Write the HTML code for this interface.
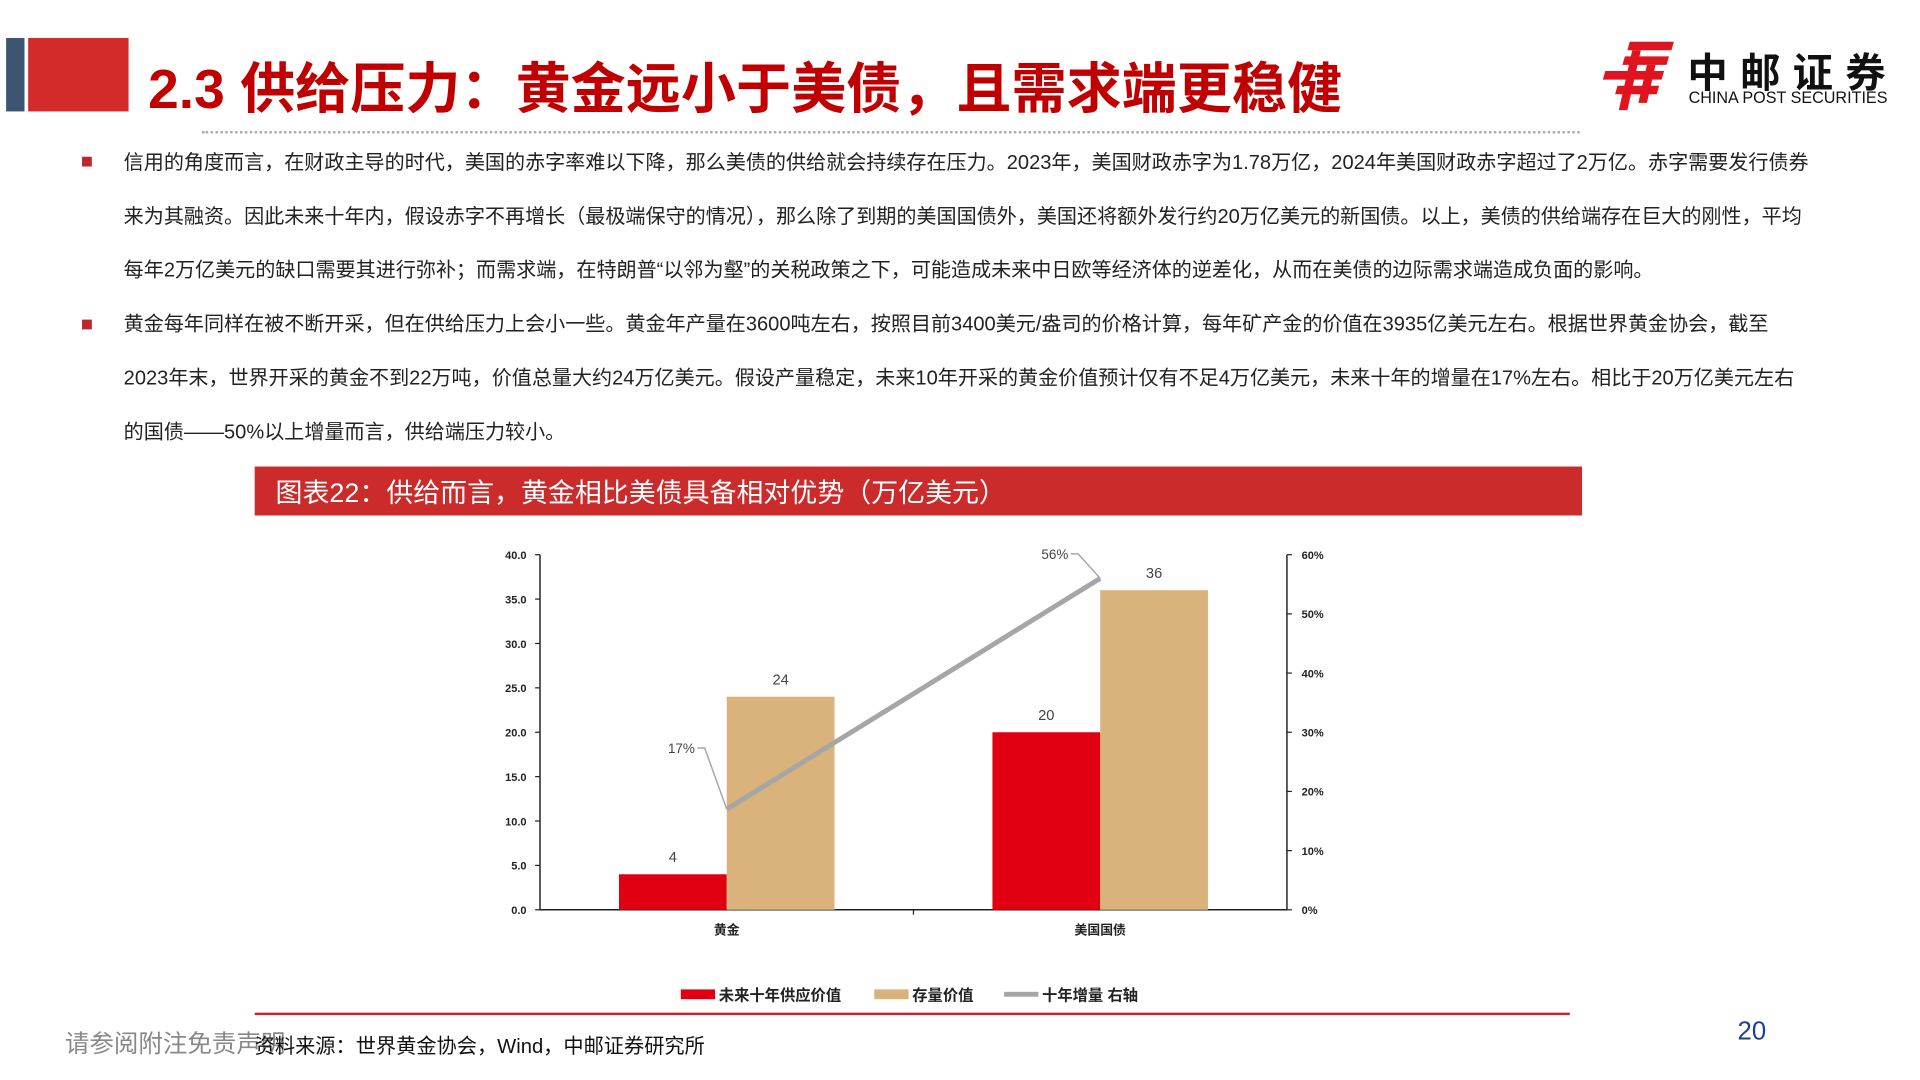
<!DOCTYPE html>
<html><head><meta charset="utf-8">
<style>
html,body{margin:0;padding:0;background:#fff;}
body{width:1920px;height:1080px;overflow:hidden;position:relative;font-family:"Liberation Sans","Noto Sans CJK SC",sans-serif;}
#stage{position:absolute;left:0;top:0;width:1568px;height:882px;transform:scale(1.22449);transform-origin:0 0;}
.abs{position:absolute;}
.para{position:absolute;left:101px;font-size:16.4px;color:#222;line-height:44px;width:1382px;}
.bul{position:absolute;left:67px;width:8px;height:8px;background:#c0272d;}
</style></head><body>
<div id="stage">
  <div class="abs" style="left:5px;top:31px;width:15px;height:60px;background:#3d5573"></div>
  <div class="abs" style="left:23px;top:31px;width:82px;height:60px;background:#d32a2a"></div>
  <div class="abs" style="left:121px;top:36px;font-size:45px;font-weight:bold;color:#c00000;white-space:nowrap">2.3 供给压力：黄金远小于美债，且需求端更稳健</div>
  <div class="abs" style="left:165px;top:107px;width:1125px;border-top:2px dotted #aaa"></div>
  <svg class="abs" style="left:1309px;top:34px" width="60" height="56" viewBox="0 0 60 56">
    <g fill="#e0141e">
      <polygon points="22,0 58,0 56,7 20,7"/><polygon points="18,12 54,12 52,19 16,19"/>
      <polygon points="2,24 50,24 48,31 0,31"/><polygon points="12,36 46,36 44,43 10,43"/>
      <polygon points="24,7 31,7 20,56 13,56"/><polygon points="36,19 43,19 36,50 29,50"/>
    </g>
  </svg>
  <div class="abs" style="left:1378px;top:33px;font-size:33px;font-weight:bold;color:#111;letter-spacing:10px;white-space:nowrap">中邮证券</div>
  <div class="abs" style="left:1379px;top:72px;font-size:13.2px;color:#111;white-space:nowrap">CHINA POST SECURITIES</div>

  <div class="bul" style="top:128px"></div>
  <div class="para" style="top:111px">信用的角度而言，在财政主导的时代，美国的赤字率难以下降，那么美债的供给就会持续存在压力。2023年，美国财政赤字为1.78万亿，2024年美国财政赤字超过了2万亿。赤字需要发行债券来为其融资。因此未来十年内，假设赤字不再增长（最极端保守的情况），那么除了到期的美国国债外，美国还将额外发行约20万亿美元的新国债。以上，美债的供给端存在巨大的刚性，平均每年2万亿美元的缺口需要其进行弥补；而需求端，在特朗普“以邻为壑”的关税政策之下，可能造成未来中日欧等经济体的逆差化，从而在美债的边际需求端造成负面的影响。</div>
  <div class="bul" style="top:261px"></div>
  <div class="para" style="top:243px">黄金每年同样在被不断开采，但在供给压力上会小一些。黄金年产量在3600吨左右，按照目前3400美元/盎司的价格计算，每年矿产金的价值在3935亿美元左右。根据世界黄金协会，截至<br>2023年末，世界开采的黄金不到22万吨，价值总量大约24万亿美元。假设产量稳定，未来10年开采的黄金价值预计仅有不足4万亿美元，未来十年的增量在17%左右。相比于20万亿美元左右<br>的国债——50%以上增量而言，供给端压力较小。</div>

  <div class="abs" style="left:208px;top:381px;width:1084px;height:40px;background:#cc2b2b"></div>
  <div class="abs" style="left:225px;top:385px;font-size:22px;color:#fff;white-space:nowrap">图表22：供给而言，黄金相比美债具备相对优势（万亿美元）</div>

  <svg id="chart" class="abs" style="left:0;top:0" width="1568" height="882"></svg>

  <div class="abs" style="left:208px;top:827px;width:1074px;height:1.5px;background:#c0272d"></div>
  <div class="abs" style="left:53px;top:836px;font-size:20px;color:#888;white-space:nowrap">请参阅附注免责声明</div>
  <div class="abs" style="left:208px;top:841px;font-size:16.5px;color:#111;white-space:nowrap">资料来源：世界黄金协会，Wind，中邮证券研究所</div>
  <div class="abs" style="left:1419px;top:831px;font-size:21px;color:#1f3d99">20</div>
</div>
<script>
const categories=["黄金","美国国债"];
const supplyValues=[4,20];
const stockValues=[24,36];
const growthValues=[17,56];
const leftTicks=[0,5,10,15,20,25,30,35,40];
const rightTicks=[0,10,20,30,40,50,60];
const legendLabels=["未来十年供应价值","存量价值","十年增量 右轴"];

const NS="http://www.w3.org/2000/svg";
const svg=document.getElementById('chart');
const X0=441,X1=1051,Y0=743,Y1=453;
const yL=v=>Y0-(v/40)*(Y0-Y1);
const yR=v=>Y0-(v/60)*(Y0-Y1);
const catW=(X1-X0)/categories.length;
const cx=i=>X0+catW*(i+0.5);
const BW=88;
function mk(tag,attrs,text){const e=document.createElementNS(NS,tag);for(const k in attrs)e.setAttribute(k,attrs[k]);if(text!==undefined)e.textContent=text;svg.appendChild(e);return e;}
const FONT='"Liberation Sans","Noto Sans CJK SC",sans-serif';

let e=mk('line',{x1:X0,y1:Y1,x2:X0,y2:Y0,stroke:'#222','stroke-width':1.2});

e=mk('line',{x1:X1,y1:Y1,x2:X1,y2:Y0,stroke:'#222','stroke-width':1.2});

e=mk('line',{x1:X0,y1:Y0,x2:X1,y2:Y0,stroke:'#222','stroke-width':1.2});

leftTicks.forEach(t=>{
  mk('line',{x1:X0-4,x2:X0,y1:yL(t),y2:yL(t),stroke:'#222'});
  e=mk('text',{x:X0-11,y:yL(t)+3.5,'text-anchor':'end','font-size':9,'font-weight':'bold','font-family':FONT,fill:'#222'},t.toFixed(1));
  
});
rightTicks.forEach(t=>{
  mk('line',{x1:X1,x2:X1+4,y1:yR(t),y2:yR(t),stroke:'#222'});
  e=mk('text',{x:X1+12,y:yR(t)+3.5,'font-size':9,'font-weight':'bold','font-family':FONT,fill:'#222'},t+'%');
  
});
mk('line',{x1:X0+catW,x2:X0+catW,y1:Y0,y2:Y0+4,stroke:'#222'});
categories.forEach((c,i)=>{
  e=mk('text',{x:cx(i),y:Y0+20,'text-anchor':'middle','font-size':10.5,'font-weight':'bold','font-family':FONT,fill:'#222'},c);
  
  e=mk('rect',{x:cx(i)-BW,y:yL(supplyValues[i]),width:BW,height:Y0-yL(supplyValues[i]),fill:'#e00012'});
  
  e=mk('text',{x:cx(i)-BW/2,y:yL(supplyValues[i])-10,'text-anchor':'middle','font-size':12,'font-family':FONT,fill:'#444'},supplyValues[i]);
  
  e=mk('rect',{x:cx(i),y:yL(stockValues[i]),width:BW,height:Y0-yL(stockValues[i]),fill:'#d9b27c'});
  
  e=mk('text',{x:cx(i)+BW/2,y:yL(stockValues[i])-10,'text-anchor':'middle','font-size':12,'font-family':FONT,fill:'#444'},stockValues[i]);
  
});
const pts=growthValues.map((v,i)=>cx(i)+','+yR(v)).join(' ');
e=mk('polyline',{points:pts,fill:'none',stroke:'#a6a6a6','stroke-width':4});

growthValues.forEach((v,i)=>{
  const px=cx(i),py=yR(v);
  const lx=px-30,ly=py-(i==0?50:20);
  mk('polyline',{points:`${px},${py} ${lx+12},${ly} ${lx+6},${ly}`,fill:'none',stroke:'#a6a6a6','stroke-width':1.2});
  e=mk('text',{x:lx+4,y:ly+4,'text-anchor':'end','font-size':11,'font-family':FONT,fill:'#444'},v+'%');
  
});
const lx0=[556,714,820],cols=['#e00012','#d9b27c','#a6a6a6'];
legendLabels.forEach((l,i)=>{
  const g=mk('g',{});
  
  
  const r=document.createElementNS(NS,'rect');
  r.setAttribute('x',lx0[i]);r.setAttribute('y',i==2?810:808);r.setAttribute('width',28);r.setAttribute('height',i==2?4:8);r.setAttribute('fill',cols[i]);
  g.appendChild(r);
  const t=document.createElementNS(NS,'text');
  t.setAttribute('x',lx0[i]+31);t.setAttribute('y',817);t.setAttribute('font-size',12.5);t.setAttribute('font-weight','bold');t.setAttribute('font-family',FONT);t.setAttribute('fill','#222');
  t.textContent=l;g.appendChild(t);
});
</script>
</body></html>
